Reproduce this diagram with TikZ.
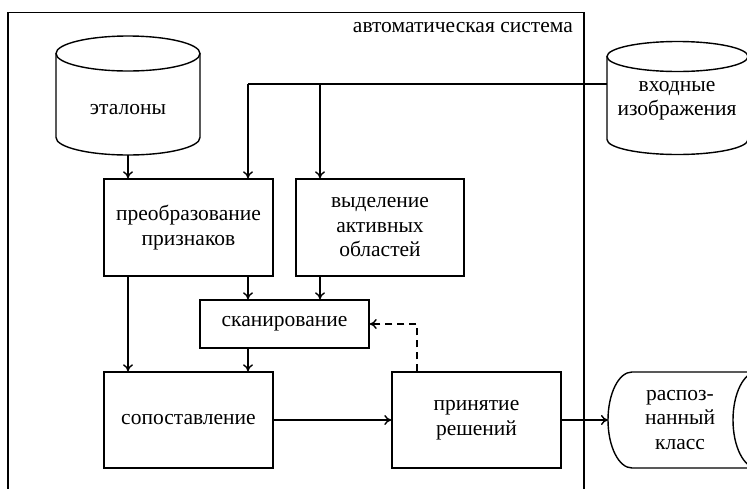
\documentclass[tikz,border=0pt]{standalone}
\usepackage{fontspec}
\setmainfont{Liberation Serif}
\usetikzlibrary{arrows.meta}
\begin{document}
\begin{tikzpicture}[x=1pt,y=-1pt,
  box/.style={draw, line width=1.4pt, minimum width=169pt, align=center, inner sep=0pt, font=\fontsize{21.5}{24.5}\selectfont},
  lbl/.style={align=center, inner sep=0pt, font=\fontsize{21.5}{24.5}\selectfont},
  shp/.style={line width=1.4pt},
  conn/.style={line width=1.4pt, -{To[length=7pt,width=10pt]}},
  dsh/.style={dash pattern=on 7pt off 5pt}]
\useasboundingbox (0,0) rectangle (747,488);
\clip (0,0) rectangle (747,488);
% frame
\draw[shp] (8,500) -- (8,12.5) -- (584,12.5) -- (584,500);
\node[lbl, anchor=base east] (sys) at (573,32) {автоматическая система};
% boxes
\node[box, minimum height=97pt] (pre) at (188.5,227.5) {преобразование\\признаков};
\node[box, minimum width=168pt, minimum height=97pt] (vyd) at (380,227.5) {выделение\\активных\\областей};
\node[box, minimum height=48pt] (scan) at (284.5,324) {сканирование};
\node[box, minimum height=96pt] (sop) at (188.5,420) {сопоставление};
\node[box, minimum height=96pt] (prin) at (476.5,420) {принятие\\решений};
% cylinder etalony
\draw[shp] (128,53.5) ellipse [x radius=72pt, y radius=17.5pt];
\draw[shp] (56,53.5) -- (56,137.5) arc[start angle=180, end angle=360, x radius=72pt, y radius=17.5pt] -- (200,53.5);
\node[lbl] (et) at (128,110) {эталоны};
\coordinate (etB) at (128,155);
% cylinder input
\draw[shp] (677.5,56.5) ellipse [x radius=70.5pt, y radius=15pt];
\draw[shp] (607,56.5) -- (607,139.5) arc[start angle=180, end angle=360, x radius=70.5pt, y radius=15pt] -- (748,56.5);
\node[lbl] (vx) at (677,100.5) {входные\\изображения};
\coordinate (vxL) at (607,84);
% output cylinder
\draw[shp] (757,372) -- (632,372) arc[start angle=90, end angle=270, x radius=24pt, y radius=48pt] -- (757,468);
\draw[shp] (757,420) ellipse [x radius=24pt, y radius=48pt];
\node[lbl] (rk) at (680,420) {распоз-\\нанный\\класс};
\coordinate (rkL) at (608,420);
% connectors
\coordinate (j1) at (248,84);
\coordinate (j2) at (320,84);
\coordinate (d1) at (417,324);
\draw[shp] (vxL) -- (j1);
\draw[conn] (j1) -- (j1 |- pre.north);
\draw[conn] (j2) -- (j2 |- vyd.north);
\draw[conn] (etB) -- (etB |- pre.north);
\draw[conn] (j1 |- pre.south) -- (j1 |- scan.north);
\draw[conn] (j2 |- vyd.south) -- (j2 |- scan.north);
\draw[conn] (etB |- pre.south) -- (etB |- sop.north);
\draw[conn] (j1 |- scan.south) -- (j1 |- sop.north);
\draw[conn] (sop.east) -- (prin.west);
\draw[conn] (prin.east) -- (rkL);
\draw[conn, dsh] (d1 |- prin.north) -- (d1) -- (scan.east);
\end{tikzpicture}
\end{document}
